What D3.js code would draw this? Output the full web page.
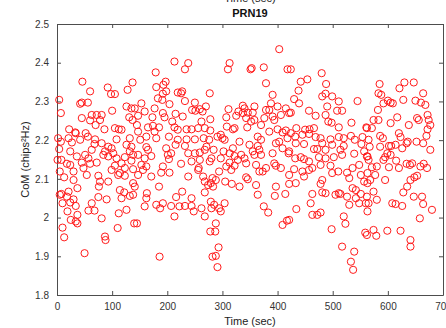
<!DOCTYPE html>
<html>
<head>
<meta charset="utf-8">
<script src="https://cdn.jsdelivr.net/npm/d3@7"></script>
<style>
  body { margin: 0; background: #fff; }
  svg { display: block; font-family: "Liberation Sans", Arial, sans-serif; }
</style>
</head>
<body>
<div id="chart"></div>
<script>
const title = 'PRN19';
const xLabel = 'Time (sec)';
const yLabel = 'CoM (chips\u00B2Hz)';
const xTicks = [0, 100, 200, 300, 400, 500, 600, 700];
const yTicks = [1.8, 1.9, 2, 2.1, 2.2, 2.3, 2.4, 2.5];

// [time (sec), CoM], in time strips
const strip1 = [
  [46,2.351],[92,2.336],[128,2.330],[60,2.326],[98,2.319],[105,2.319],[137,2.349],[4,2.304],
  [42,2.294],[45,2.297],[56,2.297],[126,2.287],[135,2.282],[100,2.276],[7,2.270],[63,2.265],
  [72,2.265],[81,2.265],[45,2.257],[60,2.251],[131,2.259],[137,2.252],[70,2.239],[78,2.252],
  [86,2.228],[22,2.228],[52,2.218],[105,2.231],[112,2.228],[117,2.227],[33,2.220],[21,2.205],
  [34,2.218],[56,2.209],[69,2.202],[108,2.202],[132,2.205],[2,2.205],[7,2.196],[27,2.194],
  [42,2.201],[81,2.192],[126,2.188],[135,2.183],[68,2.190],[4,2.177],[24,2.171],[63,2.175],
  [93,2.183],[99,2.179],[87,2.171],[102,2.166],[132,2.171],[36,2.158],[51,2.162],[57,2.153],
  [84,2.162],[93,2.158],[108,2.153],[138,2.162],[123,2.156],[8,2.149],[18,2.139],[24,2.136],
  [45,2.142],[60,2.139],[72,2.142],[117,2.140],[135,2.147],[105,2.134],[1,2.149],[5,2.119],
  [30,2.119],[48,2.128],[99,2.123],[123,2.128],[114,2.115],[138,2.125],[13,2.104],[54,2.110],
  [75,2.108],[111,2.110],[123,2.108],[30,2.097],[78,2.093],[138,2.089],[93,2.093],[76,2.080],
  [37,2.076],[21,2.067],[114,2.071],[8,2.061],[122,2.065],[5,2.059],[18,2.054],[30,2.047],
  [75,2.053],[90,2.047],[117,2.050],[132,2.056],[10,2.037],[24,2.039],[34,2.030],[63,2.037],
  [19,2.016],[57,2.018],[68,2.018],[112,2.011],[126,2.020],[37,2.007],[81,1.998],[25,1.994],
  [34,1.990],[37,1.985],[140,1.985],[10,1.974],[110,1.973],[13,1.949],[87,1.951],[88,1.942],
  [50,1.908]
];

const strip2 = [
  [213,2.403],[238,2.399],[232,2.383],[179,2.375],[197,2.351],[193,2.343],[180,2.337],[198,2.326],
  [192,2.320],[219,2.323],[227,2.326],[225,2.321],[183,2.308],[191,2.304],[277,2.321],[153,2.295],
  [204,2.293],[232,2.301],[250,2.297],[177,2.282],[141,2.282],[159,2.274],[245,2.278],[251,2.276],
  [259,2.280],[270,2.287],[264,2.274],[192,2.270],[215,2.268],[147,2.263],[173,2.259],[195,2.259],
  [228,2.261],[209,2.248],[262,2.248],[278,2.254],[145,2.239],[165,2.233],[174,2.237],[185,2.233],
  [213,2.233],[219,2.227],[235,2.228],[244,2.228],[256,2.231],[268,2.231],[278,2.225],[147,2.222],
  [177,2.222],[162,2.209],[180,2.205],[151,2.201],[203,2.209],[219,2.201],[235,2.202],[250,2.202],
  [266,2.205],[276,2.201],[215,2.188],[232,2.185],[162,2.182],[165,2.175],[198,2.179],[271,2.183],
  [147,2.162],[171,2.159],[201,2.162],[207,2.166],[238,2.166],[250,2.166],[259,2.168],[268,2.175],
  [280,2.153],[159,2.153],[203,2.151],[244,2.145],[259,2.149],[277,2.145],[153,2.136],[162,2.132],
  [156,2.123],[192,2.132],[225,2.139],[257,2.128],[256,2.123],[189,2.116],[204,2.116],[147,2.110],
  [171,2.106],[238,2.106],[265,2.106],[268,2.093],[274,2.084],[185,2.080],[283,2.080],[141,2.080],
  [163,2.063],[227,2.067],[162,2.050],[216,2.053],[244,2.050],[268,2.065],[138,2.059],[159,2.029],
  [180,2.033],[192,2.037],[207,2.030],[222,2.029],[232,2.030],[244,2.030],[262,2.024],[280,2.024],
  [187,2.024],[248,2.016],[213,2.003],[268,2.003],[145,1.985],[278,1.964],[186,1.899],[282,1.899]
];

const strip3 = [
  [403,2.435],[313,2.399],[310,2.383],[351,2.383],[353,2.386],[375,2.388],[418,2.383],[379,2.347],
  [391,2.317],[388,2.295],[311,2.280],[337,2.289],[340,2.282],[358,2.287],[329,2.274],[325,2.263],
  [337,2.270],[346,2.271],[355,2.271],[343,2.257],[352,2.248],[358,2.252],[307,2.259],[379,2.278],
  [385,2.278],[400,2.287],[415,2.282],[376,2.257],[391,2.261],[394,2.252],[406,2.265],[421,2.270],
  [308,2.235],[319,2.228],[322,2.231],[345,2.233],[370,2.239],[385,2.222],[400,2.228],[409,2.220],
  [415,2.225],[291,2.209],[300,2.205],[304,2.201],[297,2.214],[331,2.196],[349,2.188],[364,2.209],
  [370,2.201],[397,2.192],[403,2.196],[418,2.205],[284,2.175],[302,2.171],[313,2.166],[322,2.159],
  [334,2.162],[319,2.179],[355,2.171],[367,2.175],[364,2.185],[370,2.162],[391,2.166],[409,2.179],
  [420,2.166],[297,2.153],[313,2.142],[328,2.149],[340,2.153],[343,2.140],[358,2.162],[361,2.136],
  [367,2.119],[373,2.119],[379,2.128],[394,2.140],[397,2.134],[406,2.128],[294,2.119],[307,2.132],
  [316,2.123],[322,2.134],[279,2.089],[282,2.102],[288,2.097],[305,2.093],[317,2.087],[331,2.080],
  [343,2.104],[346,2.099],[361,2.084],[397,2.080],[421,2.087],[364,2.059],[414,2.061],[395,2.056],
  [279,2.041],[285,2.033],[294,2.024],[304,2.037],[297,2.016],[375,2.029],[383,2.013],[409,1.981],
  [417,1.992],[288,1.985],[287,1.964],[293,1.923],[288,1.901],[291,1.872]
];

const strip4 = [
  [424,2.383],[480,2.373],[442,2.351],[454,2.357],[438,2.328],[488,2.345],[481,2.313],[487,2.320],
  [499,2.313],[511,2.300],[490,2.287],[545,2.301],[430,2.306],[439,2.295],[457,2.276],[469,2.263],
  [508,2.276],[517,2.276],[424,2.271],[487,2.265],[492,2.248],[498,2.245],[511,2.233],[534,2.245],
  [561,2.233],[434,2.231],[450,2.227],[458,2.228],[466,2.231],[432,2.209],[424,2.218],[445,2.214],
  [457,2.216],[469,2.208],[478,2.205],[496,2.202],[511,2.208],[520,2.205],[533,2.211],[540,2.201],
  [554,2.208],[552,2.190],[433,2.192],[448,2.190],[466,2.177],[472,2.177],[481,2.192],[487,2.175],
  [499,2.188],[514,2.175],[520,2.185],[539,2.165],[557,2.171],[563,2.158],[421,2.171],[432,2.153],
  [442,2.156],[448,2.151],[457,2.145],[475,2.156],[487,2.153],[502,2.156],[517,2.162],[430,2.125],
  [445,2.119],[457,2.123],[463,2.128],[478,2.136],[496,2.134],[510,2.119],[526,2.116],[536,2.128],
  [548,2.136],[551,2.110],[563,2.115],[421,2.110],[433,2.089],[448,2.106],[481,2.097],[478,2.087],
  [499,2.115],[530,2.102],[557,2.093],[563,2.089],[481,2.065],[463,2.061],[487,2.063],[505,2.059],
  [511,2.063],[514,2.061],[536,2.076],[542,2.071],[551,2.061],[526,2.054],[530,2.033],[542,2.050],
  [548,2.037],[560,2.037],[563,2.016],[460,2.037],[434,2.022],[463,2.007],[472,2.007],[478,2.013],
  [520,2.003],[523,1.984],[498,1.970],[559,1.961],[517,1.925],[539,1.912],[533,1.886],[537,1.865],
  [421,1.994]
];

const strip5 = [
  [585,2.345],[630,2.349],[647,2.349],[621,2.334],[583,2.321],[588,2.317],[592,2.295],[600,2.302],
  [605,2.297],[609,2.295],[628,2.304],[650,2.302],[660,2.297],[664,2.321],[668,2.291],[582,2.278],
  [574,2.252],[583,2.252],[605,2.244],[617,2.259],[638,2.239],[653,2.257],[656,2.252],[672,2.265],
  [674,2.252],[677,2.239],[672,2.228],[562,2.231],[571,2.231],[586,2.211],[591,2.205],[620,2.218],
  [623,2.208],[565,2.201],[586,2.183],[602,2.185],[606,2.185],[614,2.188],[626,2.179],[634,2.192],
  [636,2.196],[652,2.196],[664,2.192],[670,2.211],[677,2.175],[567,2.183],[599,2.166],[605,2.162],
  [592,2.149],[595,2.156],[562,2.158],[565,2.149],[615,2.147],[634,2.139],[640,2.136],[644,2.140],
  [665,2.139],[671,2.128],[659,2.132],[580,2.132],[571,2.130],[602,2.130],[620,2.128],[595,2.097],
  [568,2.097],[577,2.110],[641,2.097],[648,2.104],[653,2.108],[635,2.080],[628,2.065],[574,2.067],
  [562,2.054],[565,2.037],[580,2.046],[608,2.037],[614,2.035],[626,2.030],[647,2.054],[662,2.054],
  [664,2.035],[680,2.020],[658,1.998],[574,1.968],[562,1.955],[579,1.953],[599,1.966],[623,1.966],
  [641,1.942],[641,1.925]
];

const points = [].concat(strip1, strip2, strip3, strip4, strip5);

const width = 446;
const height = 328;
const margin = { top: 24, right: 3, bottom: 33, left: 57 };
const innerW = width - margin.left - margin.right;
const innerH = height - margin.top - margin.bottom;

const svg = d3.select('#chart').append('svg')
  .attr('width', width)
  .attr('height', height);

const x = d3.scaleLinear().domain([0, 700]).range([margin.left, margin.left + innerW]);
const y = d3.scaleLinear().domain([1.8, 2.5]).range([margin.top + innerH, margin.top]);

// box-style axes, ticks pointing inward
const tickLen = 4;
const axisColor = '#4d4d4d';

const axisBottomG = svg.append('g')
  .attr('transform', `translate(0,${y(1.8)})`)
  .call(d3.axisBottom(x).tickValues(xTicks).tickSizeInner(-tickLen).tickSizeOuter(0).tickPadding(8));
const axisTopG = svg.append('g')
  .attr('transform', `translate(0,${y(2.5)})`)
  .call(d3.axisTop(x).tickValues(xTicks).tickSizeInner(-tickLen).tickSizeOuter(0).tickFormat(''));
const axisLeftG = svg.append('g')
  .attr('transform', `translate(${x(0)},0)`)
  .call(d3.axisLeft(y).tickValues(yTicks).tickSizeInner(-tickLen).tickSizeOuter(0).tickPadding(8)
    .tickFormat(d3.format('~g')));
const axisRightG = svg.append('g')
  .attr('transform', `translate(${x(700)},0)`)
  .call(d3.axisRight(y).tickValues(yTicks).tickSizeInner(-tickLen).tickSizeOuter(0).tickFormat(''));

[axisBottomG, axisTopG, axisLeftG, axisRightG].forEach(g => {
  g.select('.domain').attr('stroke', axisColor).attr('stroke-width', 1);
  g.selectAll('.tick line').attr('stroke', axisColor);
  g.selectAll('.tick text')
    .attr('fill', '#333')
    .style('font-size', '10px')
    .style('font-family', '"Liberation Sans", Arial, sans-serif');
});

// points
svg.append('g')
  .selectAll('circle')
  .data(points)
  .enter().append('circle')
  .attr('cx', d => x(d[0]))
  .attr('cy', d => y(d[1]))
  .attr('r', 3.6)
  .attr('fill', 'none')
  .attr('stroke', '#ff1a1a')
  .attr('stroke-width', 1);

// labels
svg.append('text')
  .attr('x', x(350))
  .attr('y', 2)
  .attr('text-anchor', 'middle')
  .style('font-size', '11px')
  .attr('fill', '#222')
  .text(xLabel);

svg.append('text')
  .attr('x', x(350))
  .attr('y', 17)
  .attr('text-anchor', 'middle')
  .style('font-size', '11px')
  .style('font-weight', 'bold')
  .attr('fill', '#111')
  .text(title);

svg.append('text')
  .attr('x', x(350))
  .attr('y', 325)
  .attr('text-anchor', 'middle')
  .style('font-size', '11px')
  .attr('fill', '#222')
  .text(xLabel);

svg.append('text')
  .attr('transform', `translate(29,${y(2.15)}) rotate(-90)`)
  .attr('text-anchor', 'middle')
  .style('font-size', '11px')
  .attr('fill', '#222')
  .text(yLabel);
</script>
</body>
</html>
